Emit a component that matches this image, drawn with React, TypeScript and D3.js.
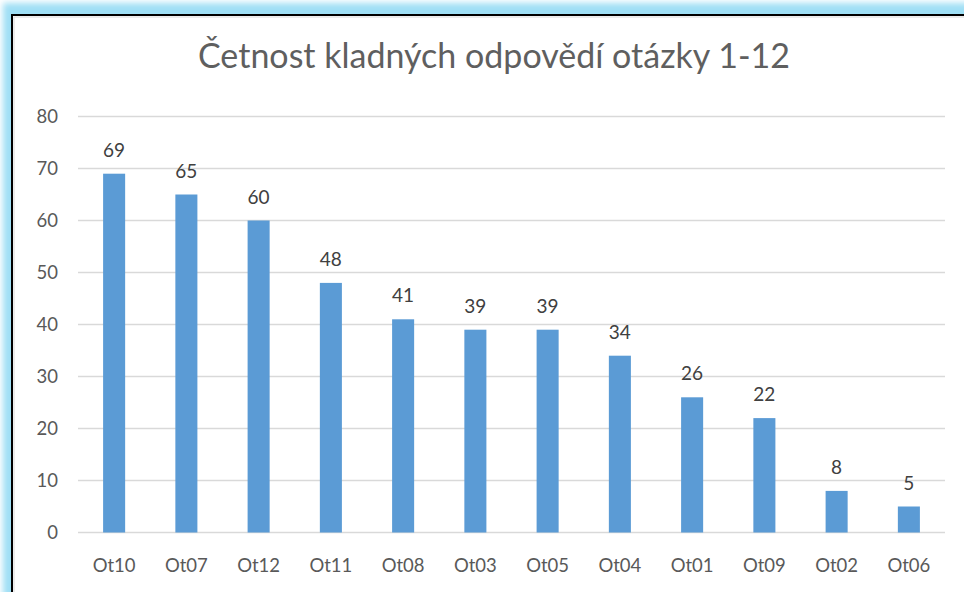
import React from "react";
import * as d3 from "d3";

const categories = ["Ot10", "Ot07", "Ot12", "Ot11", "Ot08", "Ot03", "Ot05", "Ot04", "Ot01", "Ot09", "Ot02", "Ot06"];
const values = [69, 65, 60, 48, 41, 39, 39, 34, 26, 22, 8, 5];
const yTicks = [0, 10, 20, 30, 40, 50, 60, 70, 80];
const title = "Četnost kladných odpovědí otázky 1-12";

const W = 964, H = 592;
const FONT = "Lato, 'Open Sans', sans-serif";

export default function App() {
  const x = d3.scaleBand<string>().domain(categories).range([78, 945]).paddingInner(0.695).paddingOuter(0.3475);
  const y = d3.scaleLinear().domain([0, 80]).range([532.5, 116.5]);
  return (
    <svg width={W} height={H} style={{ position: "absolute", left: 0, top: 0, background: "#fff" }}>
      <defs>
        <filter id="glow" x="-5%" y="-5%" width="110%" height="110%">
          <feGaussianBlur stdDeviation="3" />
        </filter>
      </defs>
      <rect x={3} y={3} width={1000} height={700} fill="#9fdff5" filter="url(#glow)" />
      <rect x={12} y={15} width={1000} height={700} fill="#fff" stroke="#000" strokeWidth={2} />
      <rect x={14} y={17} width={1000} height={700} fill="none" stroke="#d9d9d9" strokeWidth={1} />
      <text x={494} y={68} textAnchor="middle" fontFamily={FONT} fontSize={34} fill="#5f5f5f">{title}</text>
      {yTicks.map(t => (
        <g key={t}>
          <line x1={78} x2={945} y1={y(t)} y2={y(t)} stroke="#d9d9d9" strokeWidth={t === 0 ? 1.5 : 1.3} />
          <text x={58} y={y(t)} dy="0.35em" textAnchor="end" fontFamily={FONT} fontSize={18.5} fill="#595959">{t}</text>
        </g>
      ))}
      {categories.map((c, i) => (
        <g key={c}>
          <rect x={x(c)} y={y(values[i])} width={x.bandwidth()} height={y(0) - y(values[i])} fill="#5b9bd5" />
          <text x={(x(c) as number) + x.bandwidth() / 2} y={y(values[i]) - 17} textAnchor="middle" fontFamily={FONT} fontSize={19} fill="#404040">{values[i]}</text>
          <text x={(x(c) as number) + x.bandwidth() / 2} y={572} textAnchor="middle" fontFamily={FONT} fontSize={18.5} fill="#595959">{c}</text>
        </g>
      ))}
    </svg>
  );
}
